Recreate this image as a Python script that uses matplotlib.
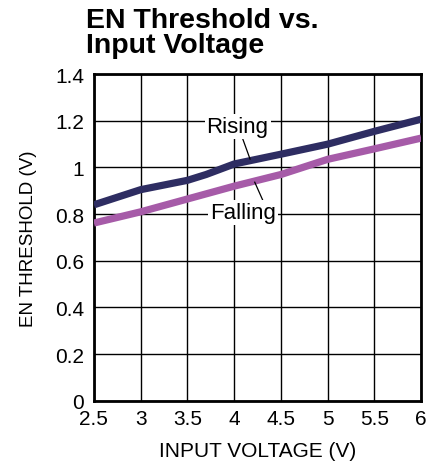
import numpy as np
import matplotlib.pyplot as plt

plt.rcParams['font.family'] = ['Liberation Sans', 'DejaVu Sans']

# data
vin = [2.5, 3.0, 3.5, 3.7, 4.0, 4.5, 5.0, 5.5, 6.0]
rising = [0.84, 0.905, 0.945, 0.97, 1.015, 1.057, 1.10, 1.155, 1.207]
vin_fall = [2.5, 3.0, 3.5, 4.0, 4.5, 5.0, 5.5, 6.0]
falling = [0.762, 0.81, 0.865, 0.92, 0.97, 1.035, 1.08, 1.126]

xticks = [2.5, 3, 3.5, 4, 4.5, 5, 5.5, 6]
xticklabels = ['2.5', '3', '3.5', '4', '4.5', '5', '5.5', '6']
yticks = [0, 0.2, 0.4, 0.6, 0.8, 1.0, 1.2, 1.4]
yticklabels = ['0', '0.2', '0.4', '0.6', '0.8', '1', '1.2', '1.4']

fig = plt.figure(figsize=(4.41, 4.64), dpi=100)
ax = fig.add_axes([0.213, 0.134, 0.742, 0.704])

ax.plot(vin, rising, color='#2e2d62', lw=5.2, solid_capstyle='butt', zorder=3)
ax.plot(vin_fall, falling, color='#a65ba8', lw=5.2, solid_capstyle='butt', zorder=3)

ax.set_xlim(2.5, 6)
ax.set_ylim(0, 1.4)
ax.set_xticks(xticks)
ax.set_xticklabels(xticklabels)
ax.set_yticks(yticks)
ax.set_yticklabels(yticklabels)
ax.tick_params(length=0, labelsize=15)
ax.tick_params(axis='x', pad=6)
ax.tick_params(axis='y', pad=7)
ax.grid(True, color='black', lw=1.0)
ax.set_axisbelow(True)
for s in ax.spines.values():
    s.set_linewidth(2)

ax.set_xlabel('INPUT VOLTAGE (V)', fontsize=15, labelpad=9)
ax.set_ylabel('EN THRESHOLD (V)', fontsize=13.5, labelpad=13)

# curve labels with leader lines
ax.plot([4.085, 4.17], [1.13, 1.036], color='black', lw=0.9, zorder=4)
ax.plot([4.22, 4.31], [0.937, 0.856], color='black', lw=0.9, zorder=4)
ax.text(4.036, 1.175, 'Rising', fontsize=16, ha='center', va='center', zorder=5,
        bbox=dict(facecolor='white', edgecolor='none', pad=1.5))
ax.text(4.09, 0.805, 'Falling', fontsize=16, ha='center', va='center', zorder=5,
        bbox=dict(facecolor='white', edgecolor='none', pad=1.5))

fig.text(0.195, 0.982, 'EN Threshold vs.\nInput Voltage', fontsize=20.5, fontweight='bold',
         ha='left', va='top', linespacing=0.92)

fig.savefig('out.png', dpi=100)
